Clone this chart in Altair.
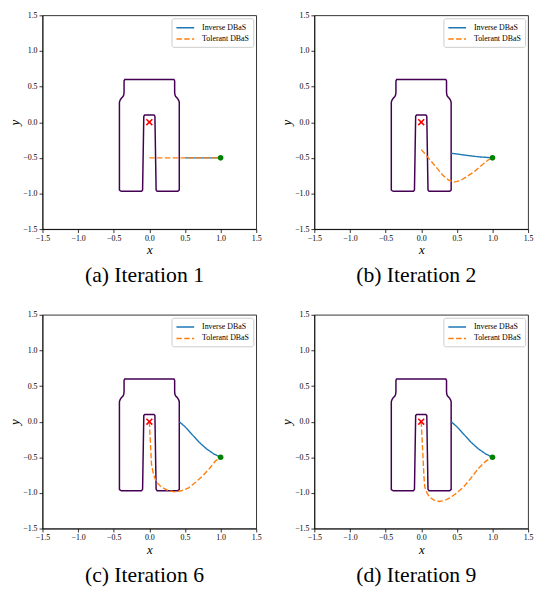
import altair as alt
import pandas as pd

# ---- obstacle outline ----
OBS_X = [-0.40, -0.42, -0.42, -0.41, -0.39, -0.37, -0.36, -0.355, -0.355, -0.345,
         0.345, 0.355, 0.355, 0.36, 0.37, 0.39, 0.41, 0.42, 0.42, 0.40,
         0.11, 0.095, 0.078, 0.065, -0.065, -0.078, -0.095, -0.11, -0.40]
OBS_Y = [-0.97, -0.95, 0.28, 0.31, 0.34, 0.36, 0.38, 0.42, 0.58, 0.60,
         0.60, 0.58, 0.42, 0.38, 0.36, 0.34, 0.31, 0.28, -0.95, -0.97,
         -0.97, -0.95, 0.085, 0.10, 0.10, 0.085, -0.95, -0.97, -0.97]

GOAL = (0.0, 0.0)
START = (1.0, -0.5)

# ---- (a) Iteration 1 ----
INV_A_X = [0.50, 1.00]
INV_A_Y = [-0.50, -0.50]
TOL_A_X = [0.00, 1.00]
TOL_A_Y = [-0.50, -0.50]

# ---- (b) Iteration 2 ----
INV_B_X = [0.42, 0.60, 0.80, 1.00]
INV_B_Y = [-0.435, -0.46, -0.485, -0.50]
TOL_B_X = [0.00, 0.05, 0.10, 0.20, 0.30, 0.38, 0.46, 0.55, 0.66, 0.75, 0.84, 0.94, 1.00]
TOL_B_Y = [-0.385, -0.44, -0.50, -0.62, -0.74, -0.81, -0.84, -0.82, -0.75, -0.69, -0.61, -0.53, -0.50]

# ---- (c) Iteration 6 ----
INV_C_X = [0.42, 0.50, 0.60, 0.70, 0.80, 0.90, 0.96, 1.00]
INV_C_Y = [0.00, -0.07, -0.18, -0.29, -0.38, -0.45, -0.48, -0.50]
TOL_C_X = [0.00, 0.01, 0.02, 0.03, 0.06, 0.10, 0.16, 0.25, 0.35, 0.45, 0.55, 0.65, 0.75, 0.85, 0.93, 1.00]
TOL_C_Y = [0.00, -0.20, -0.40, -0.60, -0.75, -0.85, -0.91, -0.96, -0.985, -0.97, -0.93, -0.85, -0.76, -0.65, -0.55, -0.50]

# ---- (d) Iteration 9 ----
INV_D_X = [0.42, 0.50, 0.60, 0.70, 0.80, 0.90, 0.96, 1.00]
INV_D_Y = [0.00, -0.07, -0.18, -0.29, -0.38, -0.45, -0.48, -0.50]
TOL_D_X = [0.00, 0.01, 0.02, 0.03, 0.04, 0.05, 0.08, 0.12, 0.18, 0.25, 0.32, 0.40, 0.50, 0.60, 0.70, 0.80, 0.90, 0.96, 1.00]
TOL_D_Y = [0.00, -0.20, -0.40, -0.60, -0.80, -0.92, -1.00, -1.06, -1.10, -1.12, -1.11, -1.07, -1.00, -0.91, -0.79, -0.66, -0.56, -0.52, -0.50]

CAPTIONS = ["(a) Iteration 1", "(b) Iteration 2", "(c) Iteration 6", "(d) Iteration 9"]
METHODS = ["Inverse DBaS", "Tolerant DBaS"]
TICKS = [-1.5, -1.0, -0.5, 0.0, 0.5, 1.0, 1.5]

SERIF = "Liberation Serif"


def make_axis(title):
    return alt.Axis(values=TICKS, format=".1f", title=title, grid=False,
                    labelExpr="replace(datum.label, '-', '\u2212')",
                    labelOverlap=False, labelFlush=False,
                    domainColor="black", domainWidth=0.8, tickColor="black",
                    tickWidth=0.8, tickSize=3.5, labelFont=SERIF, labelFontSize=8,
                    labelColor="black", labelPadding=2, titleFont=SERIF,
                    titleFontStyle="italic", titleFontWeight="normal",
                    titleFontSize=13, titleColor="black", titlePadding=1.5)


def panel(inv_x, inv_y, tol_x, tol_y, caption):
    rows = []
    for i, (x, y) in enumerate(zip(inv_x, inv_y)):
        rows.append({"x": x, "y": y, "method": METHODS[0], "i": i})
    for i, (x, y) in enumerate(zip(tol_x, tol_y)):
        rows.append({"x": x, "y": y, "method": METHODS[1], "i": i})
    traj = pd.DataFrame(rows)
    obs = pd.DataFrame({"x": OBS_X, "y": OBS_Y, "i": list(range(len(OBS_X)))})
    goal = pd.DataFrame({"x": [GOAL[0]], "y": [GOAL[1]]})
    start = pd.DataFrame({"x": [START[0]], "y": [START[1]]})

    xs = alt.Scale(domain=[-1.5, 1.5], nice=False, zero=False)
    ys = alt.Scale(domain=[-1.5, 1.5], nice=False, zero=False)
    xax = make_axis("x")
    yax = make_axis("y")

    obs_l = alt.Chart(obs).mark_line(color="#440154", strokeWidth=1.5).encode(
        x=alt.X("x:Q", scale=xs, axis=xax),
        y=alt.Y("y:Q", scale=ys, axis=yax),
        order="i:Q",
    )
    leg = alt.Legend(title=None, orient="top-right", offset=3,
                     symbolType="M-1,0H3", symbolSize=81, symbolStrokeWidth=1.5,
                     labelFont=SERIF, labelFontSize=8, labelColor="black",
                     labelOffset=16, strokeColor="#cccccc", fillColor="white",
                     padding=4, cornerRadius=2, rowPadding=1.5)
    traj_l = alt.Chart(traj).mark_line(strokeWidth=1.4).encode(
        x=alt.X("x:Q", scale=xs, axis=xax),
        y=alt.Y("y:Q", scale=ys, axis=yax),
        order="i:Q",
        color=alt.Color("method:N",
                        scale=alt.Scale(domain=METHODS, range=["#1f77b4", "#ff7f0e"]),
                        legend=leg),
        strokeDash=alt.StrokeDash("method:N",
                                  scale=alt.Scale(domain=METHODS, range=[[1, 0], [5.5, 2.4]]),
                                  legend=leg),
    )
    goal_l = alt.Chart(goal).mark_point(shape="M-1,-1L1,1M-1,1L1,-1", filled=False,
                                        color="red", strokeWidth=1.6, size=36, opacity=1).encode(
        x=alt.X("x:Q", scale=xs, axis=xax), y=alt.Y("y:Q", scale=ys, axis=yax))
    start_l = alt.Chart(start).mark_circle(color="green", size=32, opacity=1).encode(
        x=alt.X("x:Q", scale=xs, axis=xax), y=alt.Y("y:Q", scale=ys, axis=yax))

    return alt.layer(obs_l, traj_l, goal_l, start_l).properties(
        width=217, height=217,
        title=alt.TitleParams(caption, orient="bottom", font=SERIF, fontSize=22,
                              fontWeight="normal", color="black", offset=9, dx=-5),
    )


pa = panel(INV_A_X, INV_A_Y, TOL_A_X, TOL_A_Y, CAPTIONS[0])
pb = panel(INV_B_X, INV_B_Y, TOL_B_X, TOL_B_Y, CAPTIONS[1])
pc = panel(INV_C_X, INV_C_Y, TOL_C_X, TOL_C_Y, CAPTIONS[2])
pd_ = panel(INV_D_X, INV_D_Y, TOL_D_X, TOL_D_Y, CAPTIONS[3])

ind = dict(color="independent", strokeDash="independent")
row1 = alt.hconcat(pa, pb, spacing=18).resolve_scale(**ind).resolve_legend(**ind)
row2 = alt.hconcat(pc, pd_, spacing=18).resolve_scale(**ind).resolve_legend(**ind)

chart = alt.vconcat(row1, row2, spacing=23).resolve_scale(**ind).resolve_legend(**ind).properties(
    autosize=alt.AutoSizeParams(type="none"),
    padding={"left": 35, "top": 3, "right": 500, "bottom": 583},
).configure_view(stroke="black", strokeWidth=0.8)

chart.save("out.html", embed_options={"renderer": "svg", "actions": False})
